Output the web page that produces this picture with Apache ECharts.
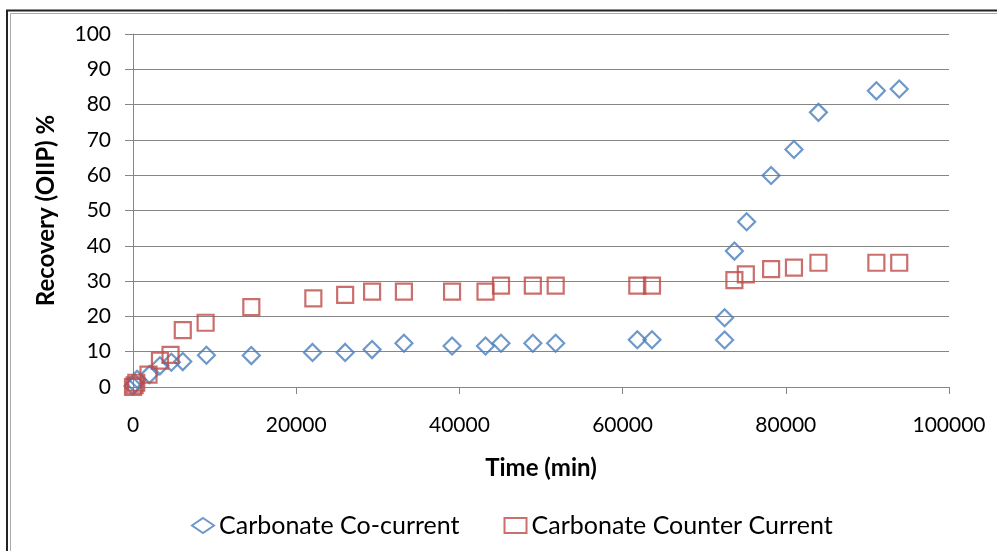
<!DOCTYPE html>
<html>
<head>
<meta charset="utf-8">
<script src="https://cdn.jsdelivr.net/npm/echarts@6/dist/echarts.min.js"></script>
<style>
  html, body { margin: 0; padding: 0; background: #fff; }
  #chart { width: 997px; height: 551px; }
</style>
</head>
<body>
<div id="chart"></div>
<script>
// time (min), recovery %
const coCurrent = [
  [0, 0.3], [250, 1], [500, 2.2], [2000, 3.5], [3300, 6], [4700, 7], [6100, 7.2],
  [9000, 9], [14500, 8.9], [22000, 9.8], [26000, 9.8], [29300, 10.6], [33200, 12.4],
  [39100, 11.6], [43200, 11.6], [45100, 12.4], [49000, 12.4], [51800, 12.4],
  [61800, 13.4], [63600, 13.4], [72500, 13.3], [72500, 19.6], [73700, 38.5],
  [75200, 46.8], [78200, 59.9], [81000, 67.3], [84000, 77.8], [91100, 83.9], [93900, 84.4]
]
const counterCurrent = [
  [0, 0], [200, 0.5], [400, 1.2], [1900, 3.5], [3300, 7.5], [4600, 9.1], [6100, 16.1],
  [8900, 18.2], [14500, 22.6], [22100, 25.1], [26000, 26.1], [29300, 27], [33200, 27],
  [39100, 27], [43200, 27], [45100, 28.7], [49000, 28.7], [51800, 28.7],
  [61800, 28.7], [63600, 28.7], [73700, 30.3], [75100, 31.9], [78200, 33.4],
  [81000, 33.8], [84000, 35.2], [91100, 35.2], [93900, 35.2]
]
const seriesNames = ['Carbonate Co-current', 'Carbonate Counter Current']

const font = 'Lato, "Open Sans", sans-serif'
const chart = echarts.init(document.getElementById('chart'))

chart.setOption({
  animation: false,
  textStyle: { fontFamily: font },
  graphic: [
    { type: 'rect', shape: { x: 7, y: 10.5, width: 1000, height: 560 }, style: { fill: 'none', stroke: '#222', lineWidth: 2 } },
    { type: 'rect', shape: { x: 10.5, y: 13.5, width: 1000, height: 560 }, style: { fill: 'none', stroke: '#aaa', lineWidth: 1 } }
  ],
  grid: { left: 133, right: 48, top: 34, bottom: 164 },
  legend: {
    left: 186,
    top: 508,
    itemGap: 44,
    itemWidth: 22,
    itemHeight: 15,
    textStyle: { fontSize: 25, color: '#000', fontFamily: font },
    data: seriesNames
  },
  xAxis: {
    type: 'value',
    min: 0,
    max: 100000,
    interval: 20000,
    name: 'Time (min)',
    nameLocation: 'middle',
    nameGap: 69,
    nameTextStyle: { fontSize: 24, fontWeight: 'bold', color: '#000' },
    axisLine: { show: true, lineStyle: { color: '#868686', width: 1 } },
    axisTick: { show: true, length: 7, lineStyle: { color: '#868686' } },
    axisLabel: { fontSize: 21, color: '#000', margin: 28, formatter: (v) => String(v) },
    splitLine: { show: false }
  },
  yAxis: {
    type: 'value',
    min: 0,
    max: 100,
    interval: 10,
    name: 'Recovery (OIIP) %',
    nameLocation: 'middle',
    nameGap: 75,
    nameTextStyle: { fontSize: 24, fontWeight: 'bold', color: '#000' },
    axisLine: { show: true, lineStyle: { color: '#868686', width: 1 } },
    axisTick: { show: true, length: 8, lineStyle: { color: '#868686' } },
    axisLabel: { fontSize: 21, color: '#000', margin: 22 },
    splitLine: { show: true, lineStyle: { color: '#868686', width: 1 } }
  },
  series: [
    {
      name: seriesNames[0],
      type: 'scatter',
      symbol: 'diamond',
      symbolSize: 17,
      itemStyle: { color: 'rgba(255,255,255,0)', borderColor: '#4A7EBB', borderWidth: 2.2 },
      data: coCurrent
    },
    {
      name: seriesNames[1],
      type: 'scatter',
      symbol: 'rect',
      symbolSize: 16,
      itemStyle: { color: 'rgba(255,255,255,0)', borderColor: '#BE4B48', borderWidth: 2.2 },
      data: counterCurrent
    }
  ]
})
</script>
</body>
</html>
